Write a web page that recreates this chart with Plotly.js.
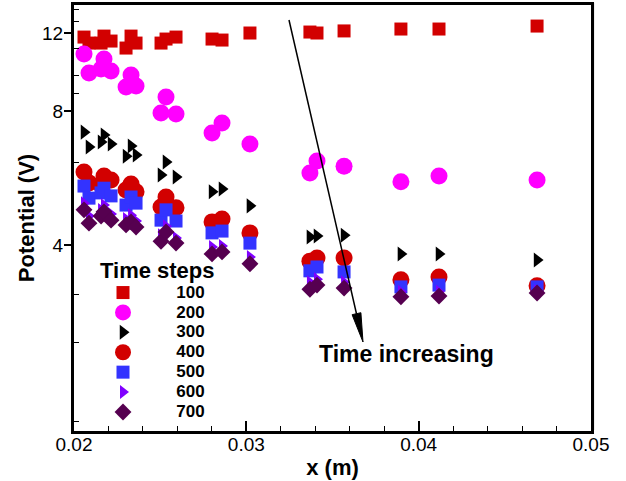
<!DOCTYPE html>
<html>
<head>
<meta charset="utf-8">
<script src="https://cdn.plot.ly/plotly-3.0.1.min.js"></script>
<style>html,body{margin:0;padding:0;background:#fff;}#chart{width:626px;height:481px;}</style>
</head>
<body>
<div id="chart"></div>
<script>
// probe positions x (m)
const xPos = [0.02058, 0.02087, 0.02157, 0.02174, 0.02215, 0.02302, 0.02331, 0.02360, 0.02505, 0.02534,
              0.02592, 0.02801, 0.02859, 0.03021, 0.03369, 0.03410, 0.03567, 0.03897, 0.04118, 0.04687];
// potential (V) per time step
const v100 = [11.75, 11.39, 11.39, 11.81, 11.51, 11.10, 11.81, 11.39, 11.39, 11.63,
              11.75, 11.63, 11.57, 12.00, 12.06, 12.00, 12.13, 12.25, 12.25, 12.44];
const v200 = [10.76, 9.75, 9.96, 10.49, 9.86, 9.07, 9.65, 9.12, 7.93, 8.61,
              7.89, 7.15, 7.53, 6.75, 5.81, 6.18, 6.02, 5.55, 5.72, 5.60];
const v300 = [7.18, 6.65, 6.82, 7.07, 6.75, 6.34, 6.68, 6.38, 5.75, 6.15,
              5.69, 5.27, 5.35, 4.90, 4.17, 4.19, 4.21, 3.82, 3.82, 3.70];
const v400 = [5.84, 5.52, 5.46, 5.72, 5.60, 5.32, 5.49, 5.27, 4.87, 5.13,
              4.85, 4.51, 4.58, 4.26, 3.68, 3.74, 3.74, 3.34, 3.39, 3.24];
const v500 = [5.43, 5.10, 5.24, 5.37, 5.16, 4.92, 5.13, 4.97, 4.55, 4.80,
              4.53, 4.26, 4.30, 4.04, 3.50, 3.57, 3.48, 3.22, 3.25, 3.22];
const v600 = [4.97, 4.65, 4.80, 4.92, 4.70, 4.58, 4.67, 4.53, 4.21, 4.41,
              4.15, 3.96, 3.98, 3.76, 3.30, 3.35, 3.30, 3.14, 3.14, 3.15];
const v700 = [4.80, 4.48, 4.65, 4.75, 4.55, 4.44, 4.51, 4.39, 4.08, 4.28,
              4.04, 3.82, 3.86, 3.63, 3.18, 3.25, 3.20, 3.06, 3.07, 3.12];

const stepNames = ["100", "200", "300", "400", "500", "600", "700"];
const yTickVals = [4, 8, 12];
const yTickText = ["4", "8", "12"];
const yMinorVals = [13.52, 12.77, 11.05, 9.65, 8.75, 6.12, 3.09, 2.42, 1.60];
const xTickVals = [0.02, 0.03, 0.04, 0.05];
const xTickText = ["0.02", "0.03", "0.04", "0.05"];

const seriesVals = [v100, v200, v300, v400, v500, v600, v700];
const styles = [
  {symbol: "square", color: "#d20000", size: 13},
  {symbol: "circle", color: "#ff00ff", size: 17},
  {symbol: "triangle-right", color: "#000000", size: 13},
  {symbol: "circle", color: "#d20000", size: 17},
  {symbol: "square", color: "#3333ff", size: 13},
  {symbol: "triangle-right", color: "#8000ff", size: 12},
  {symbol: "diamond", color: "#560050", size: 13}
];

const FONT = "Liberation Sans, Arial, Helvetica, sans-serif";
const PAD = "\u00a0".repeat(6);

const traces = seriesVals.map((vals, i) => ({
  type: "scatter",
  mode: "markers",
  x: xPos,
  y: vals,
  name: "<span style='font-size:17px'>" + PAD + stepNames[i] + "</span>",
  marker: {symbol: styles[i].symbol, color: styles[i].color, size: styles[i].size, line: {width: 0}},
  cliponaxis: false
}));

const W = 517, H = 426, L = 74, T = 5;
function px(x) { return (x - L) / W; }
function py(y) { return (T + H - y) / H; }

const layout = {
  width: 626, height: 481,
  margin: {l: 74, r: 35, t: 5, b: 50},
  paper_bgcolor: "#ffffff",
  plot_bgcolor: "#ffffff",
  font: {family: FONT, color: "#000"},
  showlegend: true,
  legend: {
    x: px(98), y: py(249), xanchor: "left", yanchor: "top",
    bgcolor: "rgba(0,0,0,0)", borderwidth: 0,
    title: {text: "<b>Time steps</b>", font: {family: FONT, size: 22, color: "#000"}},
    font: {family: FONT, size: 13, color: "#000", weight: "bold"},
    itemwidth: 40,
    tracegroupgap: 0
  },
  xaxis: {
    range: [0.02, 0.05],
    tickmode: "array", tickvals: xTickVals, ticktext: xTickText,
    ticks: "inside", ticklen: 10, tickwidth: 2, tickcolor: "#000",
    minor: {dtick: 0.002, tick0: 0.02, ticks: "inside", ticklen: 5, tickwidth: 1, tickcolor: "#000"},
    showline: true, linewidth: 3, linecolor: "#000", mirror: true,
    showgrid: false, zeroline: false,
    ticklabelstandoff: -6,
    tickfont: {family: FONT, size: 19, color: "#000"},
    title: {text: "<b>x (m)</b>", font: {family: FONT, size: 22, color: "#000"}, standoff: 6}
  },
  yaxis: {
    type: "log",
    range: [0.1836, 1.1422],
    tickmode: "array", tickvals: yTickVals, ticktext: yTickText,
    ticks: "outside", ticklen: 7, tickwidth: 2, tickcolor: "#000",
    minor: {tickmode: "array", tickvals: yMinorVals, ticks: "inside", ticklen: 5, tickwidth: 1, tickcolor: "#000"},
    showline: true, linewidth: 3, linecolor: "#000", mirror: true,
    showgrid: false, zeroline: false,
    ticklabelstandoff: -3,
    tickfont: {family: FONT, size: 19, color: "#000"},
    title: {text: "<b>Potential (V)</b>", font: {family: FONT, size: 22, color: "#000"}, standoff: 2}
  },
  shapes: [
    {type: "line", xref: "paper", yref: "paper", layer: "below",
     x0: px(75), y0: py(2.8), x1: px(593.5), y1: py(2.8),
     line: {color: "#bdbdbd", width: 1.5}},
    {type: "line", xref: "paper", yref: "paper", layer: "below",
     x0: px(593.5), y0: py(2.8), x1: px(593.5), y1: py(430),
     line: {color: "#bdbdbd", width: 1.5}},
    {type: "line", xref: "paper", yref: "paper",
     x0: px(289), y0: py(20), x1: px(357), y1: py(316),
     line: {color: "#000", width: 1.5}},
    {type: "path", xref: "paper", yref: "paper",
     path: "M " + px(352.1) + " " + py(314.7) + " L " + px(360.9) + " " + py(312.7) +
           " L " + px(363) + " " + py(342) + " Z",
     fillcolor: "#000", line: {color: "#000", width: 1}}
  ],
  annotations: [
    {xref: "paper", yref: "paper", x: px(406), y: py(354), xanchor: "center", yanchor: "middle",
     text: "<b>Time increasing</b>", showarrow: false,
     font: {family: FONT, size: 23, color: "#000"}}
  ]
};

Plotly.newPlot("chart", traces, layout, {displayModeBar: false, staticPlot: true});
</script>
</body>
</html>
